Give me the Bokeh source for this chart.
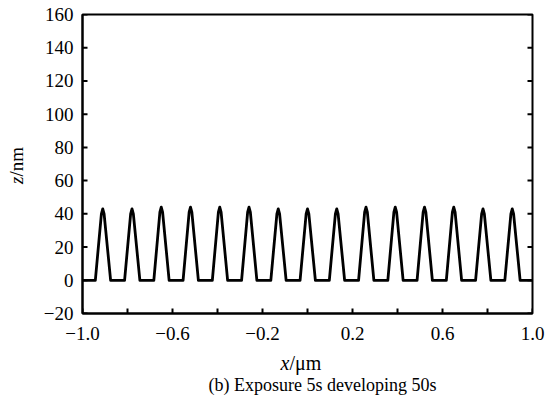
import math
from bokeh.plotting import figure
from bokeh.layouts import column, row
from bokeh.models import Range1d, FixedTicker, Label
from bokeh.embed import file_html
from bokeh.resources import INLINE

# ---- data ----
peak_x = [-0.91, -0.78, -0.65, -0.52, -0.39, -0.26, -0.13, 0.00, 0.13, 0.26, 0.39, 0.52, 0.65, 0.78, 0.91]
peak_z = [43, 43, 44, 44, 44, 44, 43, 43, 43, 44, 44, 44, 44, 43, 43]
shoulder_left = [-0.916, -0.786, -0.656, -0.526, -0.396, -0.266, -0.136, -0.006, 0.124, 0.254, 0.384, 0.514, 0.644, 0.774, 0.904]
shoulder_right = [-0.904, -0.774, -0.644, -0.514, -0.384, -0.254, -0.124, 0.006, 0.136, 0.266, 0.396, 0.526, 0.656, 0.786, 0.916]
shoulder_z = [40, 40, 41, 41, 41, 41, 40, 40, 40, 41, 41, 41, 41, 40, 40]
foot_left = [-0.943, -0.813, -0.683, -0.553, -0.423, -0.293, -0.163, -0.033, 0.097, 0.227, 0.357, 0.487, 0.617, 0.747, 0.877]
foot_right = [-0.875, -0.745, -0.615, -0.485, -0.355, -0.225, -0.095, 0.035, 0.165, 0.295, 0.425, 0.555, 0.685, 0.815, 0.945]
x_start, x_end = -1.0, 1.0
base_z = 0

x_major = [-1.0, -0.6, -0.2, 0.2, 0.6, 1.0]
x_major_labels = ["\u22121.0", "\u22120.6", "\u22120.2", "0.2", "0.6", "1.0"]
x_all_ticks = [-1.0, -0.8, -0.6, -0.4, -0.2, 0.0, 0.2, 0.4, 0.6, 0.8, 1.0]
y_ticks = [-20, 0, 20, 40, 60, 80, 100, 120, 140, 160]
y_tick_labels = ["\u221220", "0", "20", "40", "60", "80", "100", "120", "140", "160"]

x_title_var, x_title_unit = "x", "/\u03bcm"
y_title_var, y_title_unit = "z", "/nm"
caption = "(b) Exposure 5s developing 50s"

X0, X1, Y0, Y1 = -1.0, 1.0, -20, 160

# assemble the profile polyline
xs = [x_start]
zs = [base_z]
for fl, sl, px, pz, sr, sz, fr in zip(foot_left, shoulder_left, peak_x, peak_z,
                                       shoulder_right, shoulder_z, foot_right):
    xs += [fl, sl, px, sr, fr]
    zs += [base_z, sz, pz, sz, base_z]
xs.append(x_end)
zs.append(base_z)

FONT = "Liberation Serif"
MAIN_H = 345

p = figure(width=519, height=MAIN_H, x_range=Range1d(X0, X1), y_range=Range1d(Y0, Y1),
           output_backend="svg", toolbar_location=None,
           min_border_left=52, min_border_right=17, min_border_top=14, min_border_bottom=32)
p.background_fill_color = "white"
p.border_fill_color = "white"
p.grid.visible = False
p.outline_line_color = "black"
p.outline_line_width = 2

p.line(xs, zs, line_color="black", line_width=2.8, line_join="round")

# inward tick marks (drawn from the tick lists)
tick_dx = (X1 - X0) * 5 / 450.0
tick_dy = (Y1 - Y0) * 5 / 299.0
p.segment(x0=[X0] * len(y_ticks), y0=y_ticks, x1=[X0 + tick_dx] * len(y_ticks), y1=y_ticks,
          line_color="black", line_width=2)
p.segment(x0=[X1] * len(y_ticks), y0=y_ticks, x1=[X1 - tick_dx] * len(y_ticks), y1=y_ticks,
          line_color="black", line_width=2)
p.segment(x0=x_all_ticks, y0=[Y0] * len(x_all_ticks), x1=x_all_ticks, y1=[Y0 + tick_dy] * len(x_all_ticks),
          line_color="black", line_width=2)

for ax in (p.xaxis[0], p.yaxis[0]):
    ax.axis_line_width = 2
    ax.axis_line_color = "black"
    ax.major_tick_line_color = None
    ax.minor_tick_line_color = None
    ax.major_tick_in = 0
    ax.major_tick_out = 0
    ax.major_label_text_font = FONT
    ax.major_label_text_font_size = "19px"
    ax.major_label_text_color = "black"

p.xaxis[0].ticker = FixedTicker(ticks=x_major, minor_ticks=[])
p.xaxis[0].major_label_overrides = {t: l for t, l in zip(x_major, x_major_labels)}
p.xaxis[0].major_label_standoff = 13
p.yaxis[0].ticker = FixedTicker(ticks=y_ticks, minor_ticks=[])
p.yaxis[0].major_label_overrides = {t: l for t, l in zip(y_ticks, y_tick_labels)}
p.yaxis[0].major_label_standoff = 9


def blank(width, height, xr, yr):
    f = figure(width=width, height=height, x_range=xr, y_range=yr,
               output_backend="svg", toolbar_location=None,
               x_axis_type=None, y_axis_type=None,
               min_border_left=0, min_border_right=0, min_border_top=0, min_border_bottom=0)
    f.grid.visible = False
    f.outline_line_color = None
    f.background_fill_color = "white"
    f.border_fill_color = "white"
    return f


# left strip holding the y title (coordinates = canvas pixels)
yf = blank(30, MAIN_H, Range1d(0, 30), Range1d(MAIN_H, 0))
yf.add_layout(Label(x=16, y=187, text=y_title_var, text_font=FONT, text_font_style="italic",
                    text_font_size="19px", text_align="right", text_baseline="alphabetic",
                    text_color="black", angle=math.pi / 2))
yf.add_layout(Label(x=16, y=187, text=y_title_unit, text_font=FONT,
                    text_font_size="19px", text_align="left", text_baseline="alphabetic",
                    text_color="black", angle=math.pi / 2))

# bottom strip holding the x title and the caption (coordinates = canvas pixels)
cf = blank(549, 404 - MAIN_H, Range1d(0, 549), Range1d(404, MAIN_H))
cf.add_layout(Label(x=289, y=362, text=x_title_var, text_font=FONT, text_font_style="italic",
                    text_font_size="20px", text_align="right", text_baseline="alphabetic",
                    text_color="black"))
cf.add_layout(Label(x=289, y=362, text=x_title_unit, text_font=FONT,
                    text_font_size="20px", text_align="left", text_baseline="alphabetic",
                    text_color="black"))
cf.add_layout(Label(x=322, y=384, text=caption, text_font=FONT,
                    text_font_size="18px", text_align="center", text_baseline="alphabetic",
                    text_color="black"))

layout = column(row(yf, p, spacing=0), cf, spacing=0)
open("out.html", "w").write(file_html(layout, INLINE))
